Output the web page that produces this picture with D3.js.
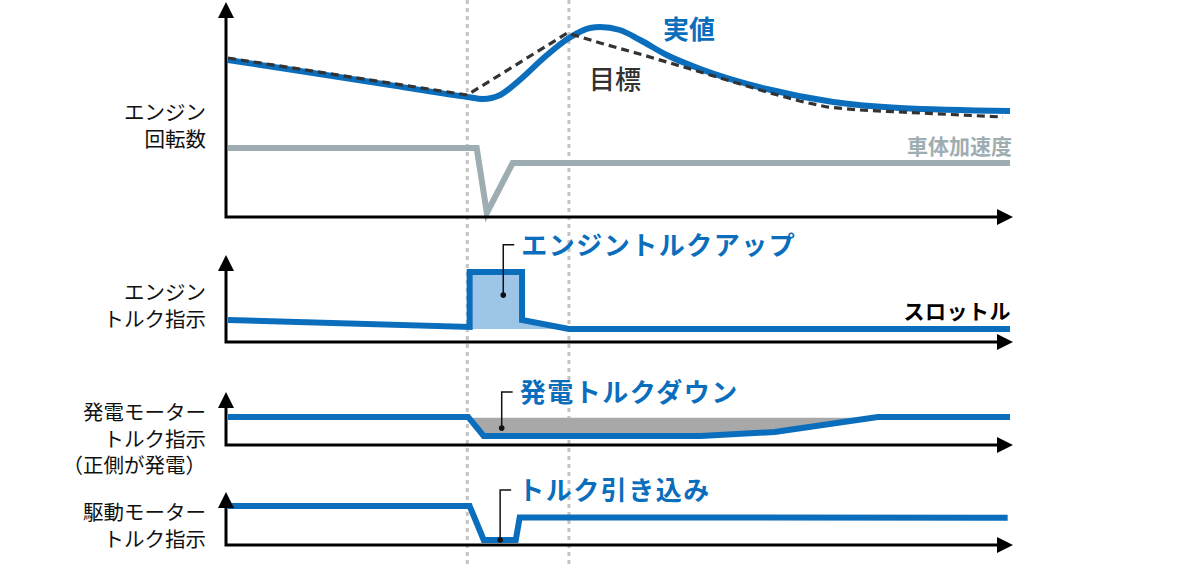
<!DOCTYPE html>
<html>
<head>
<meta charset="utf-8">
<script src="https://cdn.jsdelivr.net/npm/d3@7"></script>
<style>
  body { margin: 0; background: #fff; }
  svg { display: block; font-family: "Noto Sans CJK JP", sans-serif; }
</style>
</head>
<body>
<svg></svg>
<script>
// ---- data (time 0..100, each panel's value 0..100) ----
const eventTimes = [30.6, 43.6];

// engine speed panel
const speedActual = [[0, 78.5], [9.2, 73], [22, 65.2], [30.6, 60], [32.6, 59], [34.8, 61],
  [37.3, 68.5], [40.5, 80], [43.6, 89.5], [46.3, 94.5], [47.6, 95], [50.1, 93.5], [52.7, 88.5],
  [56.1, 81], [60.4, 74], [68.9, 64], [77.4, 57.5], [85.9, 54.5], [100, 53]];
const speedTarget = [[0, 79.5], [30.6, 61], [43.4, 92], [47.6, 87], [53.1, 81], [60.4, 72.5],
  [68.9, 62.5], [73.1, 58], [76.6, 55], [80.8, 53.5], [85.9, 52.5], [99.1, 50]];
const bodyAccel = [[0, 34.5], [31.8, 34.5], [33.1, 2], [36.4, 27], [100, 27]];

// engine torque panel
const engineTorque = [[0, 31.4], [30.9, 21.4], [30.9, 100], [37.6, 100], [37.6, 31.4],
  [43.6, 18.6], [100, 18.6]];
const torqueUpBase = 18.6;

// generator torque panel
const genTorque = [[0, 78], [30.7, 78], [32.7, 25], [60.4, 25], [69.9, 36], [83.1, 78], [100, 78]];
const genDownTop = 76;

// drive motor torque panel
const driveTorque = [[0, 97.5], [30.9, 97.5], [32.7, 12.5], [36.8, 12.5], [37.3, 69], [99.7, 68]];

// labels
const axisLabels = [
  ["エンジン", "回転数"],
  ["エンジン", "トルク指示"],
  ["発電モーター", "トルク指示", "（正側が発電）"],
  ["駆動モーター", "トルク指示"]
];
const callouts = [
  { panel: 1, text: "エンジントルクアップ", t: 35.2, v: 67, up: 139 },
  { panel: 2, text: "発電トルクダウン", t: 35.0, v: 47, up: 147 },
  { panel: 3, text: "トルク引き込み", t: 34.8, v: 12.5, up: 137.5 }
];

// ---- layout ----
const blue = "#0a6ebd";
const panels = [
  { base: 217, top: 17, tip: 2, labelY: 120 },
  { base: 342, top: 272, tip: 255, labelY: 300 },
  { base: 445, top: 409, tip: 392, labelY: 420 },
  { base: 545, top: 505, tip: 492, labelY: 520 }
];

const svg = d3.select("svg").attr("width", 1200).attr("height", 566);

const x = d3.scaleLinear().domain([0, 100]).range([228, 1010]);
const ys = panels.map(p => d3.scaleLinear().domain([0, 100]).range([p.base, p.top]));

const lineFor = (i, curve) => d3.line()
  .x(d => x(d[0]))
  .y(d => ys[i](d[1]))
  .curve(curve || d3.curveLinear);

// event markers
svg.selectAll("line.event")
  .data(eventTimes)
  .enter()
  .append("line")
  .attr("class", "event")
  .attr("x1", d => x(d)).attr("x2", d => x(d))
  .attr("y1", 0).attr("y2", 566)
  .attr("stroke", "#c4c4c4")
  .attr("stroke-width", 3)
  .attr("stroke-dasharray", "4,4");

// fills
const upPts = engineTorque.filter(d => d[0] >= 30.9 && d[0] <= 43.6).slice(1);
svg.append("path")
  .attr("d", d3.area()
    .x(d => x(d[0]))
    .y0(ys[1](torqueUpBase))
    .y1(d => ys[1](d[1]))(upPts))
  .attr("fill", "#9dc5e8");

const downPts = genTorque.filter(d => d[0] >= 30.7 && d[0] <= 83.1);
svg.append("path")
  .attr("d", d3.area()
    .x(d => x(d[0]))
    .y0(ys[2](genDownTop))
    .y1(d => ys[2](d[1]))(downPts))
  .attr("fill", "#a8a8a8");

// lines
svg.append("path")
  .attr("d", lineFor(0)(bodyAccel))
  .attr("fill", "none").attr("stroke", "#9eadb2").attr("stroke-width", 6);

svg.append("path")
  .attr("d", lineFor(0, d3.curveMonotoneX)(speedActual))
  .attr("fill", "none").attr("stroke", blue).attr("stroke-width", 6);

svg.append("path")
  .attr("d", lineFor(0)(speedTarget))
  .attr("fill", "none").attr("stroke", "#333").attr("stroke-width", 3.2)
  .attr("stroke-dasharray", "8,5");

[[1, engineTorque], [2, genTorque], [3, driveTorque]].forEach(([i, data]) => {
  svg.append("path")
    .attr("d", lineFor(i)(data))
    .attr("fill", "none").attr("stroke", blue).attr("stroke-width", 6)
    .attr("stroke-linejoin", "miter");
});

// axes with arrows
panels.forEach(p => {
  const ax = 226;
  svg.append("path")
    .attr("d", `M${ax},${p.tip + 14}V${p.base}H${997}`)
    .attr("fill", "none").attr("stroke", "#000").attr("stroke-width", 3);
  svg.append("path")
    .attr("d", `M${ax},${p.tip}L${ax - 8},${p.tip + 16}L${ax + 8},${p.tip + 16}Z`)
    .attr("fill", "#000");
  svg.append("path")
    .attr("d", `M1013,${p.base}L997,${p.base - 8}L997,${p.base + 8}Z`)
    .attr("fill", "#000");
});

// axis labels
axisLabels.forEach((lines, i) => {
  const t = svg.append("text")
    .attr("text-anchor", "end")
    .attr("font-size", 20.5)
    .attr("fill", "#111");
  lines.forEach((s, j) => {
    t.append("tspan")
      .attr("x", 206)
      .attr("y", panels[i].labelY + j * 26.5)
      .text(s);
  });
});

// series labels
svg.append("text").attr("x", 663).attr("y", 39)
  .attr("font-size", 26).attr("font-weight", 700).attr("fill", blue).text("実値");
svg.append("text").attr("x", 589).attr("y", 89)
  .attr("font-size", 26).attr("font-weight", 500).attr("fill", "#333").text("目標");
svg.append("text").attr("x", 1012).attr("y", 154).attr("text-anchor", "end")
  .attr("font-size", 21).attr("font-weight", 700).attr("fill", "#9eadb2").text("車体加速度");
svg.append("text").attr("x", 1011).attr("y", 319).attr("text-anchor", "end")
  .attr("font-size", 21).attr("font-weight", 700).attr("fill", "#000")
  .attr("letter-spacing", 0.5).text("スロットル");

// callouts
callouts.forEach(c => {
  const cx = x(c.t), cy = ys[c.panel](c.v), ty = ys[c.panel](c.up);
  svg.append("path")
    .attr("d", `M${cx},${cy}V${ty}H${cx + 11}`)
    .attr("fill", "none").attr("stroke", "#111").attr("stroke-width", 1.5);
  svg.append("circle").attr("cx", cx).attr("cy", cy).attr("r", 2.8).attr("fill", "#111");
  svg.append("text")
    .attr("x", cx + 18).attr("y", ty + 10)
    .attr("font-size", 26).attr("font-weight", 700).attr("fill", blue)
    .attr("letter-spacing", 1.5)
    .text(c.text);
});
</script>
</body>
</html>
